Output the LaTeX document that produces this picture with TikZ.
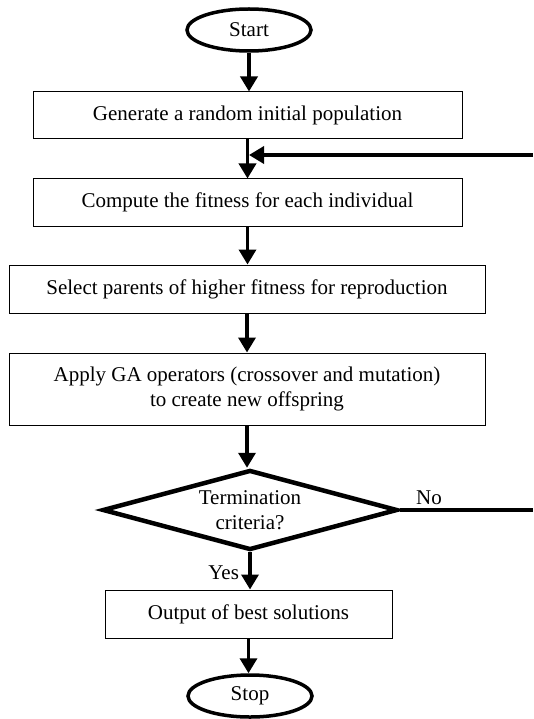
\documentclass[tikz,border=0pt]{standalone}
\usepackage{fontspec}
\setmainfont{Liberation Serif}
\usetikzlibrary{shapes.geometric,arrows.meta}

\tikzset{
  txt/.style={font=\fontsize{21}{24.5}\selectfont},
  box/.style={txt,draw,line width=1pt,align=center,inner sep=0pt},
  term/.style={txt,draw,ellipse,line width=3.5pt,minimum width=124pt,minimum height=42pt,inner sep=0pt},
  decide/.style={txt,draw,diamond,shape aspect=3.7,line width=4.5pt,align=center,inner sep=0pt,minimum width=295pt,minimum height=80pt},
  flow/.style={line width=3.5pt,-{Triangle[length=15pt,width=17pt]}},
  loopline/.style={line width=3.5pt}
}

\begin{document}
\begin{tikzpicture}[x=1pt,y=-1pt]
\useasboundingbox (0,0) rectangle (533,719);

\node[term] (start) at (249,30) {Start};
\node[box,minimum width=429pt,minimum height=47pt] (gen) at (247.5,115.5) {Generate a random initial population};
\node[box,minimum width=429pt,minimum height=47pt] (fit) at (247.5,202.5) {Compute the fitness for each individual};
\node[box,minimum width=476pt,minimum height=48pt] (sel) at (247,289) {Select parents of higher fitness for reproduction};
\node[box,minimum width=476pt,minimum height=72pt] (apply) at (247,389) {Apply GA operators (crossover and mutation)\\to create new offspring};
\node[decide] (crit) at (250,510) {Termination\\criteria?};
\node[box,minimum width=287pt,minimum height=48pt] (best) at (248.5,614) {Output of best solutions};
\node[term] (stop) at (250,696) {Stop};

\draw[flow] (start) -- (start|-gen.north);
\draw[flow] (gen) -- (gen.south|-fit.north);
\draw[flow] (fit) -- (fit.south|-sel.north);
\draw[flow] (sel) -- (sel.south|-apply.north);
\draw[flow] (apply) -- (apply.south|-crit.north);
\draw[flow] (crit.south) -- node[txt,left=6pt,pos=0.55] (yes) {Yes} (crit.south|-best.north);
\draw[flow] (best) -- (best.south|-stop.north);

% loop back
\coordinate (noend) at (533,510);
\coordinate (backend) at (533,155);
\coordinate (join) at (249,155);
\draw[loopline] (crit.east) -- node[txt,above,pos=0.22] (no) {No} (noend);
\draw[flow] (backend) -- (join);
\end{tikzpicture}
\end{document}
